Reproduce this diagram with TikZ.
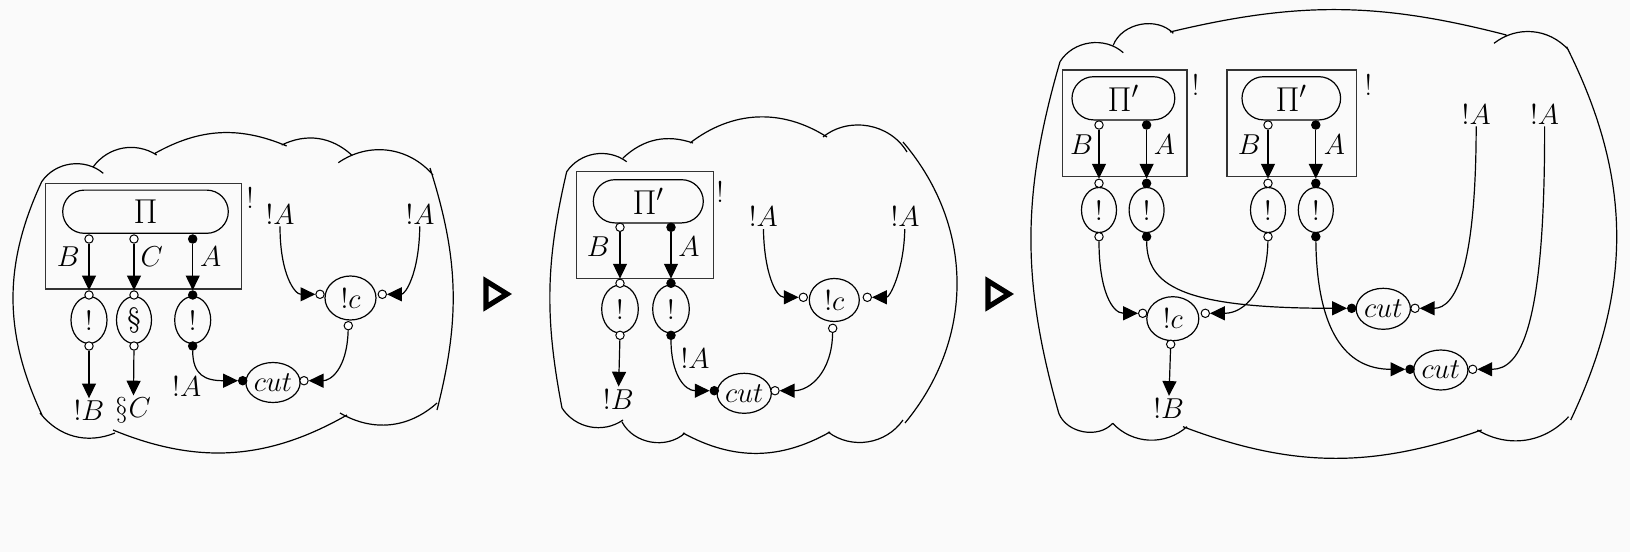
\documentclass[tikz,border=0pt]{standalone}
\usetikzlibrary{arrows.meta,shapes.geometric}
\definecolor{bgc}{RGB}{250,250,250}
\begin{document}
\begin{tikzpicture}[x=0.5pt,y=-0.5pt,
  ln/.style={line width=0.6pt},
  arr/.style={ln,-{Triangle[length=7.4pt,width=7pt]}},
  wp/.style={circle,draw,fill=white,line width=0.5pt,minimum size=4.2pt,inner sep=0pt},
  bp/.style={wp,fill=black},
  pill/.style={draw,ln,rounded corners=10.8pt,minimum height=21.6pt,inner sep=0pt,font=\fontsize{17.5}{20}\selectfont},
  bbox/.style={draw=black!80,line width=0.6pt},
  ell/.style={ellipse,draw,ln,inner sep=0pt,font=\fontsize{14}{16}\selectfont},
  lbl/.style={inner sep=1pt,font=\fontsize{14}{16}\selectfont},
  bang/.style={inner sep=0pt,font=\fontsize{15}{17}\selectfont},
  cld/.style={ln},
  tri/.style={line width=2.6pt,line join=miter}
]
\fill[bgc] (0,0) rectangle (1630,552);
\useasboundingbox (0,0) rectangle (1630,552);

% ================= Panel 1 =================
\draw[cld] (41.7,181.7) to[bend left=48] (103.3,173.3)
 (93.3,166.7) to[bend left=43] (156.7,155)
 (155,153.3) to[bend left=26] (286.7,146)
 (281.7,145) to[bend left=34] (351.7,155)
 (338.3,162.7) to[bend left=42] (433,175)
 (430,168) to[bend left=16] (437,410)
 (437,403) to[bend left=36] (340,413)
 (347,415) to[bend left=26] (113,430)
 (115,433) to[bend left=37] (40,413)
 (42,415) to[bend left=25] (41.7,181.7);
\draw[bbox] (45.7,183.3) rectangle (241.7,289);
\node[pill,minimum width=82.8pt] (pi1) at (145.5,211.7) {$\Pi$};
\node[bang] (g1) at (250,197.5) {!};
\node[ell,minimum width=18pt,minimum height=23.5pt] (e1b) at (89,320) {!};
\node[ell,minimum width=17.5pt,minimum height=23.5pt] (e1c) at (134,320) {\S};
\node[ell,minimum width=18pt,minimum height=23.5pt] (e1a) at (192.7,320) {!};
\node[wp] (p1b) at (89,239) {};
\node[wp] (p1c) at (134,239) {};
\node[bp] (p1a) at (192.7,239) {};
\node[wp] (q1b) at (89,295) {};
\node[wp] (q1c) at (134,295) {};
\node[bp] (q1a) at (192.7,295) {};
\node[wp] (r1b) at (89,346) {};
\node[wp] (r1c) at (134,346) {};
\node[bp] (r1a) at (192.7,346) {};
\node[lbl] (l1B) at (68.3,256.7) {$B$};
\node[lbl] (l1C) at (151.7,256.7) {$C$};
\node[lbl] (l1A) at (210.7,256.7) {$A$};
\node[lbl] (o1B) at (89,410.7) {$!B$};
\node[lbl] (o1C) at (133.3,410.7) {$\S C$};
\node[lbl] (o1A) at (186.7,386.7) {$!A$};
\node[lbl] (t1L) at (280,214) {$!A$};
\node[lbl] (t1R) at (420,214) {$!A$};
\node[ell,minimum width=25.5pt,minimum height=22pt] (c1) at (350.5,298) {$!c$};
\node[wp] (c1l) at (320,294.3) {};
\node[wp] (c1r) at (382.3,294.3) {};
\node[wp] (c1d) at (348.3,325.7) {};
\node[ell,minimum width=25.5pt,minimum height=20pt] (k1) at (273,382.5) {$cut$};
\node[bp] (k1l) at (242.7,380.7) {};
\node[wp] (k1r) at (304,380.7) {};
\draw[arr] (p1b) -- (q1b);
\draw[arr] (p1c) -- (q1c);
\draw[arr] (p1a) -- (q1a);
\draw[arr] (r1b) -- (o1B);
\draw[arr] (r1c) -- (o1C);
\draw[arr] (r1a) .. controls (192.7,375) and (205,380.7) .. (k1l);
\draw[arr] (c1d) .. controls (347,370) and (330,380.7) .. (k1r);
\draw[arr] (t1L) .. controls (280,275) and (295,294.3) .. (c1l);
\draw[arr] (t1R) .. controls (419,275) and (405,294.3) .. (c1r);

\draw[tri] (486,281) -- (507,294) -- (486,307) -- cycle;

% ================= Panel 2 =================
\draw[cld] (566.7,171.7) to[bend left=46] (626.7,161.7)
 (623,158) to[bend left=31] (693,143)
 (690,143) to[bend left=35] (827,137)
 (823,137) to[bend left=49] (907,152)
 (903,142) to[bend left=40] (905,423)
 (903,420) to[bend left=46] (828,432)
 (830,432) to[bend left=29] (683,433)
 (685,433) to[bend left=52] (622,422)
 (623,420) to[bend left=46] (562,408)
 (562,408) to[bend left=12] (566.7,171.7);
\draw[bbox] (576.7,171.7) rectangle (713.3,278.3);
\node[pill,minimum width=55pt] (pi2) at (648.3,201.3) {$\Pi'$};
\node[bang] (g2) at (720,192) {!};
\node[ell,minimum width=18.3pt,minimum height=24pt] (e2b) at (620,309) {!};
\node[ell,minimum width=18.3pt,minimum height=24pt] (e2a) at (671,309) {!};
\node[wp] (p2b) at (620,227.3) {};
\node[bp] (p2a) at (671,227.3) {};
\node[wp] (q2b) at (620,283.3) {};
\node[bp] (q2a) at (671,283.3) {};
\node[wp] (r2b) at (620,335.3) {};
\node[bp] (r2a) at (671,335.3) {};
\node[lbl] (l2B) at (598.3,246.7) {$B$};
\node[lbl] (l2A) at (689,246.7) {$A$};
\node[lbl] (o2B) at (618.3,399) {$!B$};
\node[lbl] (o2A) at (695,358.3) {$!A$};
\node[lbl] (t2L) at (763.3,216.7) {$!A$};
\node[lbl] (t2R) at (905,216.7) {$!A$};
\node[ell,minimum width=25pt,minimum height=21.5pt] (c2) at (834.3,300) {$!c$};
\node[wp] (c2l) at (803.3,297.3) {};
\node[wp] (c2r) at (867.3,297.3) {};
\node[wp] (c2d) at (832.7,328.3) {};
\node[ell,minimum width=26pt,minimum height=20pt] (k2) at (744.2,393.3) {$cut$};
\node[bp] (k2l) at (714.3,390.7) {};
\node[wp] (k2r) at (775,390.7) {};
\draw[arr] (p2b) -- (q2b);
\draw[arr] (p2a) -- (q2a);
\draw[arr] (r2b) -- (o2B);
\draw[arr] (r2a) .. controls (671,375) and (685,390.7) .. (k2l);
\draw[arr] (c2d) .. controls (832,372) and (810,390.7) .. (k2r);
\draw[arr] (t2L) .. controls (764,270) and (775,297.3) .. (c2l);
\draw[arr] (t2R) .. controls (904,270) and (890,297.3) .. (c2r);

\draw[tri] (988,281) -- (1009,294) -- (988,307) -- cycle;

% ================= Panel 3 =================
\draw[cld] (1060,61.7) to[bend left=50] (1123.3,52.7)
 (1113.3,45) to[bend left=57] (1173.3,33.3)
 (1170,32) to[bend left=14] (1506.4,35)
 (1494,43.3) to[bend left=43] (1568.6,50)
 (1566.6,46.7) to[bend left=26] (1570.7,420)
 (1568.6,416.7) to[bend left=39] (1477.4,430)
 (1481.6,430) to[bend left=20] (1183,426.7)
 (1187,426.7) to[bend left=44] (1112.7,423.3)
 (1112.7,423.3) to[bend left=58] (1058.8,413.3)
 (1058.8,413.3) to[bend left=16] (1060,61.7);
\draw[bbox] (1062.7,70) rectangle (1187,176.7);
\draw[bbox] (1227,70) rectangle (1356.5,176.7);
\node[pill,minimum width=51.4pt] (pi3) at (1123.4,98.3) {$\Pi'$};
\node[pill,minimum width=49.3pt] (pi4) at (1291.3,98.3) {$\Pi'$};
\node[bang] (g3) at (1195.6,85) {!};
\node[bang] (g4) at (1368.4,85) {!};
\node[ell,minimum width=17.5pt,minimum height=22.5pt] (e3b) at (1099,210) {!};
\node[ell,minimum width=17.5pt,minimum height=22.5pt] (e3a) at (1146.6,210) {!};
\node[ell,minimum width=17.5pt,minimum height=22.5pt] (e4b) at (1268,210) {!};
\node[ell,minimum width=17.5pt,minimum height=22.5pt] (e4a) at (1315.8,210) {!};
\node[wp] (p3b) at (1099,125) {};
\node[bp] (p3a) at (1146.6,125) {};
\node[wp] (p4b) at (1268,125) {};
\node[bp] (p4a) at (1315.8,125) {};
\node[wp] (q3b) at (1099,183.3) {};
\node[bp] (q3a) at (1146.6,183.3) {};
\node[wp] (q4b) at (1268,183.3) {};
\node[bp] (q4a) at (1315.8,183.3) {};
\node[wp] (r3b) at (1099,236.7) {};
\node[bp] (r3a) at (1146.6,236.7) {};
\node[wp] (r4b) at (1268,236.7) {};
\node[bp] (r4a) at (1315.8,236.7) {};
\node[lbl] (l3B) at (1081.6,145) {$B$};
\node[lbl] (l3A) at (1164.5,145) {$A$};
\node[lbl] (l4B) at (1249.4,145) {$B$};
\node[lbl] (l4A) at (1334.4,145) {$A$};
\node[lbl] (t3L) at (1476.2,114) {$!A$};
\node[lbl] (t3R) at (1544.6,114) {$!A$};
\node[lbl] (o3B) at (1168.6,408.3) {$!B$};
\node[ell,minimum width=26pt,minimum height=22pt] (c3) at (1172.8,318.7) {$!c$};
\node[wp] (c3l) at (1142.7,313.3) {};
\node[wp] (c3r) at (1205.3,313.3) {};
\node[wp] (c3d) at (1170.7,344.3) {};
\node[ell,minimum width=26pt,minimum height=20.5pt] (k3) at (1383.3,308.8) {$cut$};
\node[bp] (k3l) at (1351.7,308.3) {};
\node[wp] (k3r) at (1415,308.3) {};
\node[ell,minimum width=26pt,minimum height=20pt] (k4) at (1440.8,370) {$cut$};
\node[bp] (k4l) at (1410,369.3) {};
\node[wp] (k4r) at (1472.7,369.3) {};
\draw[arr] (p3b) -- (q3b);
\draw[arr] (p3a) -- (q3a);
\draw[arr] (p4b) -- (q4b);
\draw[arr] (p4a) -- (q4a);
\draw[arr] (r3b) .. controls (1099,290) and (1112,313.3) .. (c3l);
\draw[arr] (r3a) .. controls (1147,285) and (1180,308.3) .. (k3l);
\draw[arr] (r4b) .. controls (1267,290) and (1245,313.3) .. (c3r);
\draw[arr] (r4a) .. controls (1317,330) and (1345,369.3) .. (k4l);
\draw[arr] (t3L) .. controls (1476,270) and (1455,308.3) .. (k3r);
\draw[arr] (t3R) .. controls (1545,330) and (1520,369.3) .. (k4r);
\draw[arr] (c3d) -- (o3B);
\end{tikzpicture}
\end{document}
